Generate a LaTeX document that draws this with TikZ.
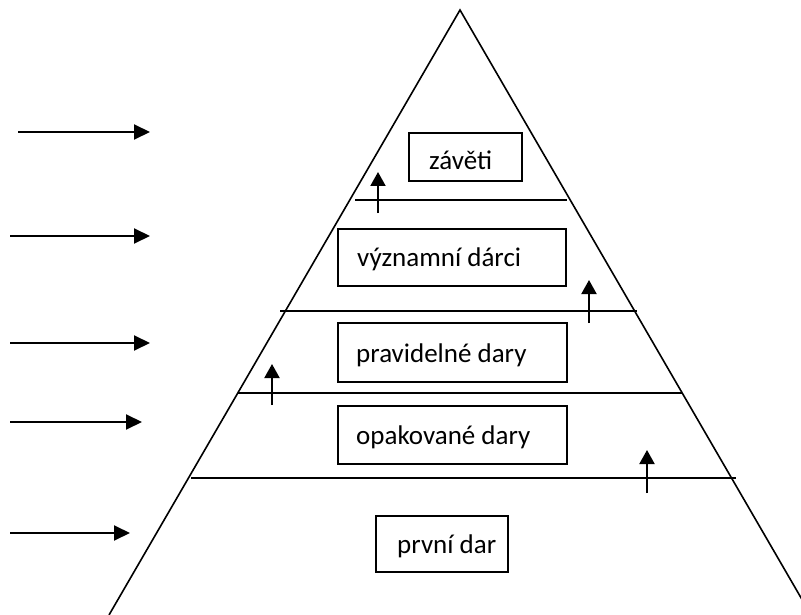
\documentclass[tikz,border=0pt]{standalone}
\usepackage{fontspec}
\setmainfont{Carlito}
\usetikzlibrary{arrows.meta}
\begin{document}
\begin{tikzpicture}[x=1pt,y=-1pt,
  edge/.style={line width=1.6pt},
  box/.style={draw, line width=1.6pt, inner sep=0pt},
  lbl/.style={anchor=base west, inner sep=0pt, font=\fontsize{27}{32}\selectfont},
  inarrow/.style={line width=2pt, -{Triangle[length=16pt,width=15pt]}},
  uparrow/.style={line width=2pt, -{Triangle[length=14pt,width=15pt]}}]
\useasboundingbox (0,0) rectangle (801,615);
\clip (0,0) rectangle (801,615);
% pyramid
\coordinate (apex) at (460,10);
\coordinate (bl) at (109,615);
\coordinate (br) at (811,615);
\draw[edge] (bl) -- (apex) -- (br);
% level lines
\coordinate (l1a) at (355,200); \coordinate (l1b) at (567,200);
\coordinate (l2a) at (280,311); \coordinate (l2b) at (637,311);
\coordinate (l3a) at (238,393); \coordinate (l3b) at (682,393);
\coordinate (l4a) at (191,478); \coordinate (l4b) at (736,478);
\draw[edge] (l1a) -- (l1b);
\draw[edge] (l2a) -- (l2b);
\draw[edge] (l3a) -- (l3b);
\draw[edge] (l4a) -- (l4b);
% boxes
\node[box, minimum width=113pt, minimum height=48pt] (b1) at (465.5,157) {};
\node[box, minimum width=228pt, minimum height=57pt] (b2) at (452,257.5) {};
\node[box, minimum width=229pt, minimum height=59pt] (b3) at (452.5,352.5) {};
\node[box, minimum width=229pt, minimum height=58pt] (b4) at (452.5,435) {};
\node[box, minimum width=132pt, minimum height=56pt] (b5) at (442,544) {};
% labels
\node[lbl] (t1) at (429,170) {závěti};
\node[lbl] (t2) at (357,266) {významní dárci};
\node[lbl] (t3) at (356,362) {pravidelné dary};
\node[lbl] (t4) at (356,444) {opakované dary};
\node[lbl] (t5) at (397,553) {první dar};
% left arrows
\coordinate (a1s) at (18,132);  \coordinate (a1e) at (150,132);
\coordinate (a2s) at (10,236);  \coordinate (a2e) at (150,236);
\coordinate (a3s) at (10,343);  \coordinate (a3e) at (150,343);
\coordinate (a4s) at (10,422);  \coordinate (a4e) at (142,422);
\coordinate (a5s) at (10,533);  \coordinate (a5e) at (130,533);
\draw[inarrow] (a1s) -- (a1e);
\draw[inarrow] (a2s) -- (a2e);
\draw[inarrow] (a3s) -- (a3e);
\draw[inarrow] (a4s) -- (a4e);
\draw[inarrow] (a5s) -- (a5e);
% up arrows
\coordinate (u1s) at (378,213); \coordinate (u1e) at (378,172);
\coordinate (u2s) at (589,323); \coordinate (u2e) at (589,280);
\coordinate (u3s) at (272,405); \coordinate (u3e) at (272,364);
\coordinate (u4s) at (647,493); \coordinate (u4e) at (647,450);
\draw[uparrow] (u1s) -- (u1e);
\draw[uparrow] (u2s) -- (u2e);
\draw[uparrow] (u3s) -- (u3e);
\draw[uparrow] (u4s) -- (u4e);
\end{tikzpicture}
\end{document}
